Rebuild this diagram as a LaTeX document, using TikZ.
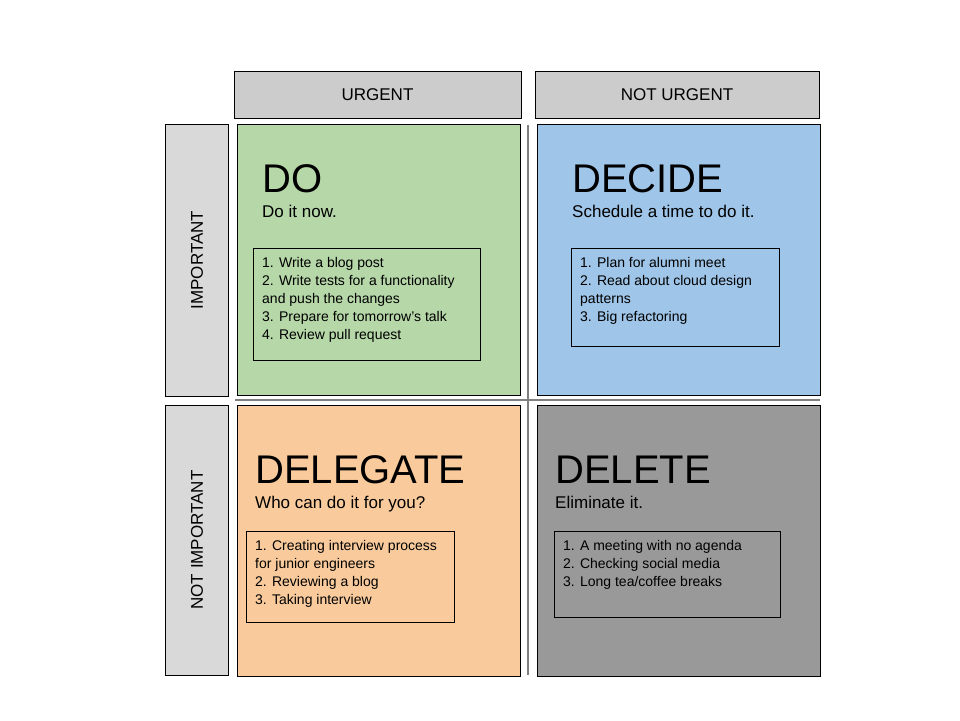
\documentclass[tikz,border=0pt]{standalone}
\usepackage{fontspec}
\setmainfont{Liberation Sans}
\begin{document}
\begin{tikzpicture}[x=1pt,y=-1pt,
 hdr/.style={draw=black,fill=black!20,line width=0.8pt},
 side/.style={draw=black,fill=black!15,line width=0.8pt},
 quad/.style={draw=black,line width=1pt},
 lst/.style={draw=black,line width=0.8pt},
 ttl/.style={anchor=base west,inner sep=0,font=\fontsize{40}{44}\selectfont},
 sub/.style={anchor=base west,inner sep=0,font=\fontsize{17}{20}\selectfont},
 item/.style={anchor=north west,inner sep=0,align=left,font=\fontsize{14}{18}\selectfont},
 lbl/.style={font=\fontsize{17}{20}\selectfont}]
\definecolor{cg}{HTML}{B6D7A8}\definecolor{cb}{HTML}{9FC5E8}
\definecolor{co}{HTML}{F9CB9C}\definecolor{cd}{HTML}{999999}
\useasboundingbox (0,0) rectangle (960,720);
\fill[white] (0,0) rectangle (960,720);
\draw[hdr] (234,71) rectangle (521,118);
\node[lbl] (u) at (377.5,95) {URGENT};
\draw[hdr] (535,71) rectangle (819,118);
\node[lbl] (nu) at (677,95) {NOT URGENT};
\draw[side] (165,124) rectangle (228,396);
\node[lbl,rotate=90] (im) at (197,260) {IMPORTANT};
\draw[side] (165,405) rectangle (228,675);
\node[lbl,rotate=90] (ni) at (197,540) {NOT IMPORTANT};
\draw[black!50,line width=1.2pt] (528,125) -- (528,675);
\draw[black!50,line width=1.2pt] (235,400) -- (820,400);
\draw[quad,fill=cg] (237,124) rectangle (520,395);
\draw[quad,fill=cb] (537,124) rectangle (820,395);
\draw[quad,fill=co] (237,405) rectangle (520,676);
\draw[quad,fill=cd] (537,405) rectangle (820,676);
\node[ttl] (t1) at (262,192) {DO};
\node[sub] (s1) at (262,217) {Do it now.};
\node[ttl] (t2) at (572,192) {DECIDE};
\node[sub] (s2) at (572,217) {Schedule a time to do it.};
\node[ttl] (t3) at (255,483) {DELEGATE};
\node[sub] (s3) at (255,508) {Who can do it for you?};
\node[ttl] (t4) at (555,483) {DELETE};
\node[sub] (s4) at (555,508) {Eliminate it.};
\draw[lst] (253,248) rectangle (480,360);
\node[item] (l1) at (262,257) {1. Write a blog post\\2. Write tests for a functionality\\and push the changes\\3. Prepare for tomorrow’s talk\\4. Review pull request};
\draw[lst] (571,248) rectangle (779,346);
\node[item] (l2) at (580,257) {1. Plan for alumni meet\\2. Read about cloud design\\patterns\\3. Big refactoring};
\draw[lst] (246,531) rectangle (454,622);
\node[item] (l3) at (255,540) {1. Creating interview process\\for junior engineers\\2. Reviewing a blog\\3. Taking interview};
\draw[lst] (554,531) rectangle (780,617);
\node[item] (l4) at (563,540) {1. A meeting with no agenda\\2. Checking social media\\3. Long tea/coffee breaks};
\end{tikzpicture}
\end{document}
